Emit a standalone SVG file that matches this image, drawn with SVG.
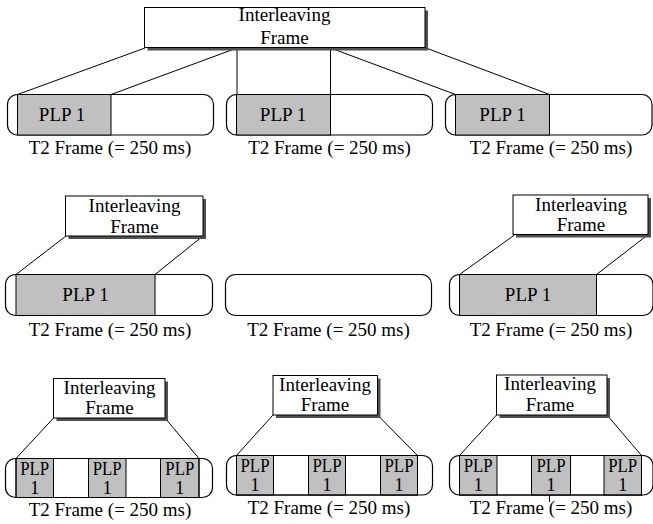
<svg xmlns="http://www.w3.org/2000/svg" width="653" height="524" viewBox="0 0 653 524">
<style>
.bg{fill:#ffffff}
.shadow{fill:#505050}
.box{fill:#ffffff;stroke:#000000;stroke-width:1}
.frame{fill:#ffffff;stroke:#000000;stroke-width:1.2}
.plp{fill:#c0c0c0;stroke:#000000;stroke-width:1}
.cells{fill:none;stroke:#000000;stroke-width:1}
.conn line{stroke:#000000;stroke-width:1}
text{font-family:"Liberation Serif","Times New Roman",serif;font-size:19px;fill:#000000;text-anchor:middle}
</style>
<rect class="bg" x="0" y="0" width="653" height="524"/>

<!-- connectors -->
<g id="connectors" class="conn">
  <line x1="145" y1="48" x2="17.5" y2="94.5"/>
  <line x1="237" y1="48" x2="111" y2="94.5"/>
  <line x1="237" y1="48" x2="237" y2="94.5"/>
  <line x1="330.5" y1="48" x2="330.5" y2="94.5"/>
  <line x1="330.5" y1="48" x2="455.5" y2="94.5"/>
  <line x1="426" y1="48" x2="549.5" y2="94.5"/>

  <line x1="66" y1="236" x2="16" y2="274.5"/>
  <line x1="200.5" y1="238" x2="155" y2="274.5"/>
  <line x1="514.5" y1="235" x2="459.5" y2="274.5"/>
  <line x1="645" y1="237" x2="596.5" y2="274.5"/>

  <line x1="53.5" y1="418" x2="16" y2="458.5"/>
  <line x1="165" y1="418" x2="199" y2="458.5"/>
  <line x1="273" y1="415" x2="236.5" y2="455.5"/>
  <line x1="378" y1="415.5" x2="417.5" y2="455.5"/>
  <line x1="496.5" y1="415" x2="459.5" y2="455.5"/>
  <line x1="607" y1="415" x2="641.5" y2="455.5"/>
  <line x1="549.5" y1="495.5" x2="549.5" y2="502"/>
</g>

<!-- Row 1 -->
<g id="il-top">
  <rect class="shadow" x="147.5" y="10.5" width="280.5" height="40"/>
  <rect class="box" x="144.5" y="7.5" width="280.5" height="40"/>
  <text x="284.5" y="21">Interleaving</text>
  <text x="284.5" y="44">Frame</text>
</g>
<g id="r1-frame1">
  <rect class="frame" x="7.5" y="94.5" width="206" height="40.5" rx="10" ry="10"/>
  <rect class="plp" x="17.5" y="94.5" width="93.5" height="40.5"/>
  <text x="62" y="121">PLP 1</text>
  <text x="110" y="154">T2 Frame (= 250 ms)</text>
</g>
<g id="r1-frame2">
  <rect class="frame" x="226.5" y="94.5" width="206" height="40.5" rx="10" ry="10"/>
  <rect class="plp" x="236.5" y="94.5" width="94" height="40.5"/>
  <text x="283" y="121">PLP 1</text>
  <text x="329.5" y="154">T2 Frame (= 250 ms)</text>
</g>
<g id="r1-frame3">
  <rect class="frame" x="445.5" y="94.5" width="206.5" height="40.5" rx="10" ry="10"/>
  <rect class="plp" x="455.5" y="94.5" width="94" height="40.5"/>
  <text x="502.5" y="121">PLP 1</text>
  <text x="551" y="154">T2 Frame (= 250 ms)</text>
</g>

<!-- Row 2 -->
<g id="il-mid-left">
  <rect class="shadow" x="68.5" y="199" width="137.5" height="40"/>
  <rect class="box" x="65.5" y="196" width="137.5" height="40"/>
  <text x="134.5" y="212">Interleaving</text>
  <text x="134.5" y="232.5">Frame</text>
</g>
<g id="r2-frame1">
  <rect class="frame" x="5.5" y="274.5" width="207" height="41" rx="10" ry="10"/>
  <rect class="plp" x="16" y="274.5" width="139" height="41"/>
  <text x="85.5" y="301">PLP 1</text>
  <text x="110" y="336">T2 Frame (= 250 ms)</text>
</g>
<g id="r2-frame2">
  <rect class="frame" x="225.5" y="274.5" width="206" height="41" rx="10" ry="10"/>
  <text x="328.5" y="336">T2 Frame (= 250 ms)</text>
</g>
<g id="il-mid-right">
  <rect class="shadow" x="516" y="198" width="135" height="39.5"/>
  <rect class="box" x="513" y="195" width="135" height="39.5"/>
  <text x="581" y="211">Interleaving</text>
  <text x="581" y="231">Frame</text>
</g>
<g id="r2-frame3">
  <rect class="frame" x="449.5" y="274.5" width="203.5" height="41" rx="10" ry="10"/>
  <rect class="plp" x="459.5" y="274.5" width="137" height="41"/>
  <text x="528" y="301">PLP 1</text>
  <text x="551" y="336">T2 Frame (= 250 ms)</text>
</g>

<!-- Row 3 -->
<g id="il-bot-left">
  <rect class="shadow" x="56.5" y="381.5" width="111.5" height="39.5"/>
  <rect class="box" x="53.5" y="378.5" width="111.5" height="39.5"/>
  <text x="109.5" y="393.5">Interleaving</text>
  <text x="109.5" y="414">Frame</text>
</g>
<g id="r3-frame1">
  <rect class="frame" x="5.5" y="458.5" width="207" height="39" rx="10" ry="10"/>
  <rect class="plp" x="16" y="458.5" width="37.5" height="39"/>
  <rect class="plp" x="88.5" y="458.5" width="37.5" height="39"/>
  <rect class="plp" x="160.5" y="458.5" width="38.5" height="39"/>
  <rect class="cells" x="16" y="458.5" width="183" height="39"/>
  <text><tspan x="34.7" y="475" textLength="29" lengthAdjust="spacingAndGlyphs">PLP</tspan><tspan x="34.7" y="494">1</tspan></text>
  <text><tspan x="107.2" y="475" textLength="29" lengthAdjust="spacingAndGlyphs">PLP</tspan><tspan x="107.2" y="494">1</tspan></text>
  <text><tspan x="179.8" y="475" textLength="29" lengthAdjust="spacingAndGlyphs">PLP</tspan><tspan x="179.8" y="494">1</tspan></text>
  <text x="110" y="516">T2 Frame (= 250 ms)</text>
</g>
<g id="il-bot-mid">
  <rect class="shadow" x="276" y="378.5" width="104.5" height="39.5"/>
  <rect class="box" x="273" y="375.5" width="104.5" height="39.5"/>
  <text x="325" y="390.5">Interleaving</text>
  <text x="325" y="411">Frame</text>
</g>
<g id="r3-frame2">
  <rect class="frame" x="226.5" y="455.5" width="206" height="39.5" rx="10" ry="10"/>
  <rect class="plp" x="236.5" y="455.5" width="37" height="39.5"/>
  <rect class="plp" x="308.5" y="455.5" width="37" height="39.5"/>
  <rect class="plp" x="380.5" y="455.5" width="37" height="39.5"/>
  <rect class="cells" x="236.5" y="455.5" width="181" height="39.5"/>
  <text><tspan x="255" y="472" textLength="29" lengthAdjust="spacingAndGlyphs">PLP</tspan><tspan x="255" y="491">1</tspan></text>
  <text><tspan x="327" y="472" textLength="29" lengthAdjust="spacingAndGlyphs">PLP</tspan><tspan x="327" y="491">1</tspan></text>
  <text><tspan x="399" y="472" textLength="29" lengthAdjust="spacingAndGlyphs">PLP</tspan><tspan x="399" y="491">1</tspan></text>
  <text x="329" y="513.5">T2 Frame (= 250 ms)</text>
</g>
<g id="il-bot-right">
  <rect class="shadow" x="499.5" y="378" width="110.5" height="40"/>
  <rect class="box" x="496.5" y="375" width="110.5" height="40"/>
  <text x="550" y="390">Interleaving</text>
  <text x="550" y="410.5">Frame</text>
</g>
<g id="r3-frame3">
  <rect class="frame" x="449.5" y="455.5" width="203.5" height="39.5" rx="10" ry="10"/>
  <rect class="plp" x="459.5" y="455.5" width="37.5" height="39.5"/>
  <rect class="plp" x="531.5" y="455.5" width="39" height="39.5"/>
  <rect class="plp" x="604" y="455.5" width="37.5" height="39.5"/>
  <rect class="cells" x="459.5" y="455.5" width="182" height="39.5"/>
  <text><tspan x="478.2" y="472" textLength="29" lengthAdjust="spacingAndGlyphs">PLP</tspan><tspan x="478.2" y="491">1</tspan></text>
  <text><tspan x="551" y="472" textLength="29" lengthAdjust="spacingAndGlyphs">PLP</tspan><tspan x="551" y="491">1</tspan></text>
  <text><tspan x="622.7" y="472" textLength="29" lengthAdjust="spacingAndGlyphs">PLP</tspan><tspan x="622.7" y="491">1</tspan></text>
  <text x="551" y="513.5">T2 Frame (= 250 ms)</text>
</g>
</svg>
